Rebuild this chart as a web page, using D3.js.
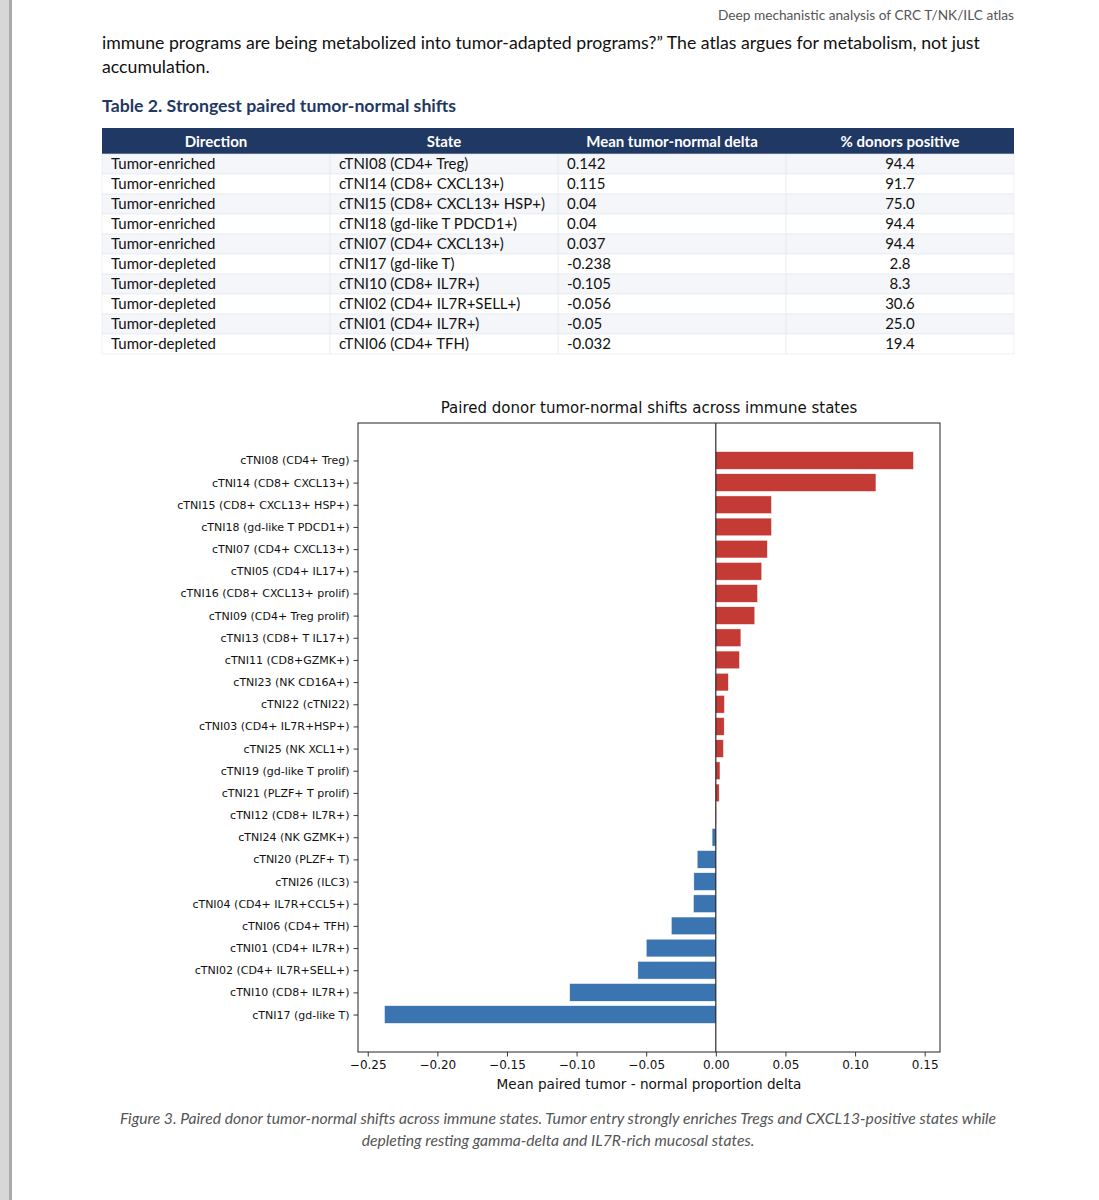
<!DOCTYPE html>
<html>
<head>
<meta charset="utf-8">
<script src="https://cdn.jsdelivr.net/npm/d3@7"></script>
<style>
  body { margin: 0; background: #fff; }
  svg { display: block; }
</style>
</head>
<body>
<div id="page"></div>
<script>
// table rows
var tableDirection = ['Tumor-enriched', 'Tumor-enriched', 'Tumor-enriched', 'Tumor-enriched', 'Tumor-enriched',
  'Tumor-depleted', 'Tumor-depleted', 'Tumor-depleted', 'Tumor-depleted', 'Tumor-depleted'];
var tableState = ['cTNI08 (CD4+ Treg)', 'cTNI14 (CD8+ CXCL13+)', 'cTNI15 (CD8+ CXCL13+ HSP+)', 'cTNI18 (gd-like T PDCD1+)',
  'cTNI07 (CD4+ CXCL13+)', 'cTNI17 (gd-like T)', 'cTNI10 (CD8+ IL7R+)', 'cTNI02 (CD4+ IL7R+SELL+)',
  'cTNI01 (CD4+ IL7R+)', 'cTNI06 (CD4+ TFH)'];
var tableDelta = ['0.142', '0.115', '0.04', '0.04', '0.037', '-0.238', '-0.105', '-0.056', '-0.05', '-0.032'];
var tableDonors = ['94.4', '91.7', '75.0', '94.4', '94.4', '2.8', '8.3', '30.6', '25.0', '19.4'];
var tableHeader = ['Direction', 'State', 'Mean tumor-normal delta', '% donors positive'];

// chart: states top to bottom
var states = ['cTNI08 (CD4+ Treg)', 'cTNI14 (CD8+ CXCL13+)', 'cTNI15 (CD8+ CXCL13+ HSP+)', 'cTNI18 (gd-like T PDCD1+)',
  'cTNI07 (CD4+ CXCL13+)', 'cTNI05 (CD4+ IL17+)', 'cTNI16 (CD8+ CXCL13+ prolif)', 'cTNI09 (CD4+ Treg prolif)',
  'cTNI13 (CD8+ T IL17+)', 'cTNI11 (CD8+GZMK+)', 'cTNI23 (NK CD16A+)', 'cTNI22 (cTNI22)',
  'cTNI03 (CD4+ IL7R+HSP+)', 'cTNI25 (NK XCL1+)', 'cTNI19 (gd-like T prolif)', 'cTNI21 (PLZF+ T prolif)',
  'cTNI12 (CD8+ IL7R+)', 'cTNI24 (NK GZMK+)', 'cTNI20 (PLZF+ T)', 'cTNI26 (ILC3)',
  'cTNI04 (CD4+ IL7R+CCL5+)', 'cTNI06 (CD4+ TFH)', 'cTNI01 (CD4+ IL7R+)', 'cTNI02 (CD4+ IL7R+SELL+)',
  'cTNI10 (CD8+ IL7R+)', 'cTNI17 (gd-like T)'];
var deltas = [0.142, 0.115, 0.040, 0.040, 0.037, 0.033, 0.030, 0.028,
  0.018, 0.017, 0.009, 0.0062, 0.006, 0.0055, 0.003, 0.0024,
  0.0003, -0.0027, -0.0134, -0.0158, -0.0161, -0.032, -0.050, -0.056,
  -0.105, -0.238];
var xTicks = [-0.25, -0.20, -0.15, -0.10, -0.05, 0.00, 0.05, 0.10, 0.15];

var W = 1099, H = 1200;
var pageFont = 'Lato, "Open Sans", sans-serif';
var plotFont = '"DejaVu Sans", sans-serif';
var navy = '#1f3864';

var svg = d3.select('#page').append('svg')
    .attr('width', W).attr('height', H);

// left grey strip of the viewer
svg.append('rect').attr('x', 0).attr('y', 0).attr('width', 9).attr('height', H).attr('fill', '#d7d7d7');
svg.append('rect').attr('x', 9).attr('y', 0).attr('width', 3).attr('height', H).attr('fill', '#ababab');

// running header
svg.append('text')
  .attr('x', 1014).attr('y', 20)
  .attr('text-anchor', 'end')
  .style('font-family', pageFont).style('font-size', '13.7px').attr('fill', '#555')
  .text('Deep mechanistic analysis of CRC T/NK/ILC atlas');

// body text
svg.append('text')
  .attr('x', 102).attr('y', 49)
  .style('font-family', pageFont).style('font-size', '17.7px').attr('fill', '#111')
  .text('immune programs are being metabolized into tumor-adapted programs?\u201d The atlas argues for metabolism, not just');
svg.append('text')
  .attr('x', 102).attr('y', 73)
  .style('font-family', pageFont).style('font-size', '17.7px').attr('fill', '#111')
  .text('accumulation.');

svg.append('text')
  .attr('x', 102).attr('y', 112)
  .style('font-family', pageFont).style('font-size', '17.7px').style('font-weight', 'bold').attr('fill', navy)
  .text('Table 2. Strongest paired tumor-normal shifts');

// table
var colX = [102, 330, 558, 786, 1014];
var headTop = 128, headH = 26, rowH = 20;
var table = svg.append('g').attr('class', 'table');
table.append('rect')
  .attr('x', colX[0]).attr('y', headTop).attr('width', colX[4] - colX[0]).attr('height', headH)
  .attr('fill', navy);
table.selectAll('.head').data(tableHeader).enter().append('text')
  .attr('class', 'head')
  .attr('x', function(d, i) { return (colX[i] + colX[i + 1]) / 2; })
  .attr('y', headTop + 19)
  .attr('text-anchor', 'middle')
  .style('font-family', pageFont).style('font-size', '15px').style('font-weight', 'bold').attr('fill', '#fff')
  .text(function(d) { return d; });

var rows = d3.range(tableDirection.length).map(function(i) {
  return [tableDirection[i], tableState[i], tableDelta[i], tableDonors[i]];
});
var rowG = table.selectAll('.row').data(rows).enter().append('g')
  .attr('class', 'row')
  .attr('transform', function(d, i) { return 'translate(0,' + (headTop + headH + i * rowH) + ')'; });
rowG.append('rect')
  .attr('x', colX[0]).attr('y', 0).attr('width', colX[4] - colX[0]).attr('height', rowH)
  .attr('fill', function(d, i) { return i % 2 === 0 ? '#f4f6fa' : '#ffffff'; })
  .attr('stroke', '#e3e7ee').attr('stroke-width', 0.6);
rowG.each(function() {
  var g = d3.select(this);
  for (var c = 1; c < 4; c++) {
    g.append('line').attr('x1', colX[c]).attr('x2', colX[c]).attr('y1', 0).attr('y2', rowH)
      .attr('stroke', '#e3e7ee').attr('stroke-width', 0.8);
  }
});
rowG.selectAll('.cell').data(function(d) { return d; }).enter().append('text')
  .attr('class', 'cell')
  .attr('x', function(d, i) { return i === 3 ? (colX[3] + colX[4]) / 2 : colX[i] + 9; })
  .attr('y', 15)
  .attr('text-anchor', function(d, i) { return i === 3 ? 'middle' : 'start'; })
  .style('font-family', pageFont).style('font-size', '15px').attr('fill', '#111')
  .text(function(d) { return d; });

// chart
var plotL = 358, plotR = 940, plotT = 423, plotB = 1052;
var lo = d3.min(deltas), hi = d3.max(deltas), pad = (hi - lo) * 0.05;
var x = d3.scaleLinear().domain([lo - pad, hi + pad]).range([plotL, plotR]);
var n = states.length, barH = 0.8, ypad = (n - 1 + barH) * 0.05;
var y = d3.scaleLinear().domain([-barH / 2 - ypad, n - 1 + barH / 2 + ypad]).range([plotT, plotB]);

var chart = svg.append('g').attr('class', 'chart');

chart.selectAll('.bar').data(deltas).enter().append('rect')
  .attr('class', 'bar')
  .attr('x', function(d) { return x(Math.min(0, d)); })
  .attr('width', function(d) { return Math.abs(x(d) - x(0)); })
  .attr('y', function(d, i) { return y(i - barH / 2); })
  .attr('height', y(barH) - y(0))
  .attr('fill', function(d) { return d >= 0 ? '#c43a34' : '#3a74b1'; })
  .attr('stroke', '#fff').attr('stroke-width', 0.5);

// zero line
chart.append('line')
  .attr('x1', x(0)).attr('x2', x(0)).attr('y1', plotT).attr('y2', plotB)
  .attr('stroke', '#000').attr('stroke-width', 1);

// axes
var xAxis = d3.axisBottom(x).tickValues(xTicks).tickFormat(d3.format('.2f')).tickSizeOuter(0).tickSize(4.5).tickPadding(4);
var gx = chart.append('g').attr('transform', 'translate(0,' + plotB + ')').call(xAxis);
var yAxis = d3.axisLeft(y).tickValues(d3.range(n)).tickFormat(function(i) { return states[i]; })
  .tickSizeOuter(0).tickSize(4.5).tickPadding(4);
var gy = chart.append('g').attr('transform', 'translate(' + plotL + ',0)').call(yAxis);
[gx, gy].forEach(function(g) {
  g.select('.domain').remove();
  g.selectAll('text').style('font-family', plotFont).attr('fill', '#111');
  g.selectAll('line').attr('stroke', '#222').attr('stroke-width', 0.9);
});
gx.selectAll('text').style('font-size', '12px');
gy.selectAll('text').style('font-size', '11px');

// frame
chart.append('rect')
  .attr('x', plotL).attr('y', plotT).attr('width', plotR - plotL).attr('height', plotB - plotT)
  .attr('fill', 'none').attr('stroke', '#222').attr('stroke-width', 1);

chart.append('text')
  .attr('x', (plotL + plotR) / 2).attr('y', plotT - 10)
  .attr('text-anchor', 'middle')
  .style('font-family', plotFont).style('font-size', '15px').attr('fill', '#111')
  .text('Paired donor tumor-normal shifts across immune states');
chart.append('text')
  .attr('x', (plotL + plotR) / 2).attr('y', 1089)
  .attr('text-anchor', 'middle')
  .style('font-family', plotFont).style('font-size', '13.6px').attr('fill', '#111')
  .text('Mean paired tumor - normal proportion delta');

// caption
var caption = ['Figure 3. Paired donor tumor-normal shifts across immune states. Tumor entry strongly enriches Tregs and CXCL13-positive states while',
  'depleting resting gamma-delta and IL7R-rich mucosal states.'];
svg.selectAll('.caption').data(caption).enter().append('text')
  .attr('class', 'caption')
  .attr('x', 558).attr('y', function(d, i) { return 1124 + i * 22; })
  .attr('text-anchor', 'middle')
  .style('font-family', pageFont).style('font-size', '15.7px').style('font-style', 'italic').attr('fill', '#555')
  .text(function(d) { return d; });
</script>
</body>
</html>
